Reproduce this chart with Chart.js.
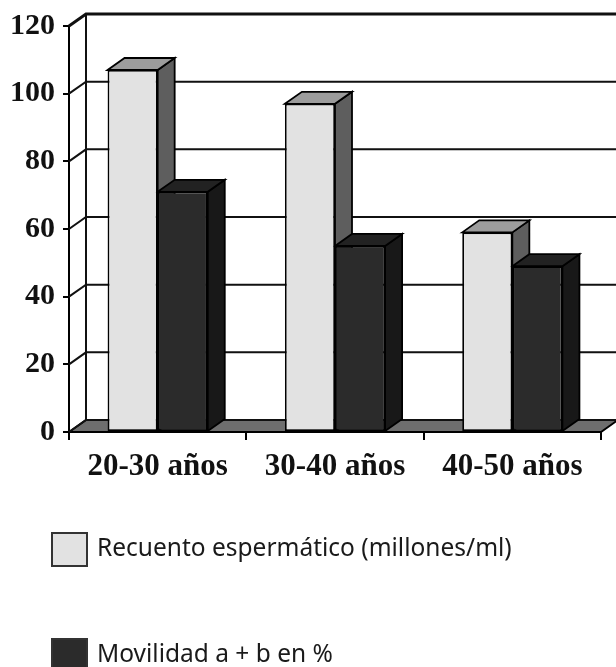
<!DOCTYPE html>
<html>
<head>
<meta charset="utf-8">
<script src="https://cdn.jsdelivr.net/npm/chart.js@4"></script>
<style>
  body { margin: 0; background: #fff; }
  #wrap { width: 616px; height: 667px; }
</style>
</head>
<body>
<div id="wrap"><canvas id="chart"></canvas></div>
<script>
// data
const categories = ['20-30 años', '30-40 años', '40-50 años'];
const recuento = [107, 97, 59];
const movilidad = [71, 55, 49];
const seriesLabels = ['Recuento espermático (millones/ml)', 'Movilidad a + b en %'];

// 3d look
const DX = 17, DY = -12;
const faceColors = [
  { front: '#e2e2e2', top: '#9c9c9c', side: '#5e5e5e' },
  { front: '#2b2b2b', top: '#222222', side: '#181818' }
];

function poly(ctx, pts, fill, lw) {
  ctx.beginPath();
  ctx.moveTo(pts[0][0], pts[0][1]);
  for (let i = 1; i < pts.length; i++) ctx.lineTo(pts[i][0], pts[i][1]);
  ctx.closePath();
  ctx.fillStyle = fill;
  ctx.fill();
  ctx.lineWidth = lw || 1.5;
  ctx.strokeStyle = '#000';
  ctx.stroke();
}

const box3d = {
  id: 'box3d',
  beforeDatasetsDraw(chart) {
    const ctx = chart.ctx;
    const { left, right, top, bottom } = chart.chartArea;
    const y = chart.scales.y;
    ctx.save();
    // floor
    poly(ctx, [[left, bottom], [left + DX, bottom + DY], [right + DX, bottom + DY], [right, bottom]], '#6e6e6e', 1.8);
    // walls and grid
    ctx.strokeStyle = '#111';
    ctx.lineWidth = 2;
    ctx.beginPath();
    ctx.moveTo(left + DX, top + DY);
    ctx.lineTo(left + DX, bottom + DY);
    ctx.stroke();
    y.ticks.forEach(t => {
      const py = y.getPixelForValue(t.value);
      ctx.lineWidth = t.value === y.max ? 3 : 2;
      ctx.beginPath();
      ctx.moveTo(left, py);
      ctx.lineTo(left + DX, py + DY);
      ctx.lineTo(right + DX + 5, py + DY);
      ctx.stroke();
    });
    // tops and sides
    for (let i = 0; i < categories.length; i++) {
      chart.data.datasets.forEach((ds, d) => {
        const bar = chart.getDatasetMeta(d).data[i];
        const xl = bar.x - bar.width / 2, xr = bar.x + bar.width / 2;
        const ty = bar.y, by = bar.base;
        poly(ctx, [[xr, ty], [xr + DX, ty + DY], [xr + DX, by + DY], [xr, by]], faceColors[d].side, 1.8);
        poly(ctx, [[xl, ty], [xl + DX, ty + DY], [xr + DX, ty + DY], [xr, ty]], faceColors[d].top, 1.8);
      });
    }
    ctx.restore();
  },
  afterDraw(chart) {
    // legend, one row per series
    const ctx = chart.ctx;
    const rows = [549, 655];
    ctx.save();
    chart.data.datasets.forEach((ds, d) => {
      const cy = rows[d];
      ctx.fillStyle = faceColors[d].front;
      ctx.fillRect(52, cy - 16, 35, 33);
      ctx.strokeStyle = '#333';
      ctx.lineWidth = 2;
      ctx.strokeRect(52, cy - 16, 35, 33);
      ctx.fillStyle = '#1a1a1a';
      ctx.font = '24.5px "Noto Sans"';
      ctx.textBaseline = 'middle';
      ctx.fillText(ds.label, 97, cy);
    });
    ctx.restore();
  }
};

new Chart(document.getElementById('chart'), {
  type: 'bar',
  data: {
    labels: categories,
    datasets: [
      { label: seriesLabels[0], data: recuento, backgroundColor: faceColors[0].front },
      { label: seriesLabels[1], data: movilidad, backgroundColor: faceColors[1].front }
    ]
  },
  options: {
    responsive: true,
    maintainAspectRatio: false,
    animation: false,
    datasets: {
      bar: {
        categoryPercentage: 0.565,
        barPercentage: 1.0,
        borderColor: '#000',
        borderWidth: 1.8,
        borderSkipped: false
      }
    },
    layout: { padding: { top: 26, right: 15, left: 0, bottom: 0 } },
    plugins: {
      legend: { display: false },
      tooltip: { enabled: false }
    },
    scales: {
      x: {
        afterFit(scale) { scale.height = 235; },
        border: { display: true, color: '#000', width: 2 },
        grid: { drawOnChartArea: false, tickLength: 8, color: '#000', lineWidth: 2 },
        ticks: {
          padding: 8,
          color: '#111',
          font: { family: '"Liberation Serif"', size: 31, weight: 'bold' }
        }
      },
      y: {
        min: 0,
        max: 120,
        afterFit(scale) { scale.width = 69; },
        border: { display: true, color: '#000', width: 2 },
        grid: { drawOnChartArea: false, tickLength: 6, color: '#000', lineWidth: 2 },
        ticks: {
          stepSize: 20,
          padding: 8,
          color: '#111',
          font: { family: '"Liberation Serif"', size: 30, weight: 'bold' }
        }
      }
    }
  },
  plugins: [box3d]
});
</script>
</body>
</html>
